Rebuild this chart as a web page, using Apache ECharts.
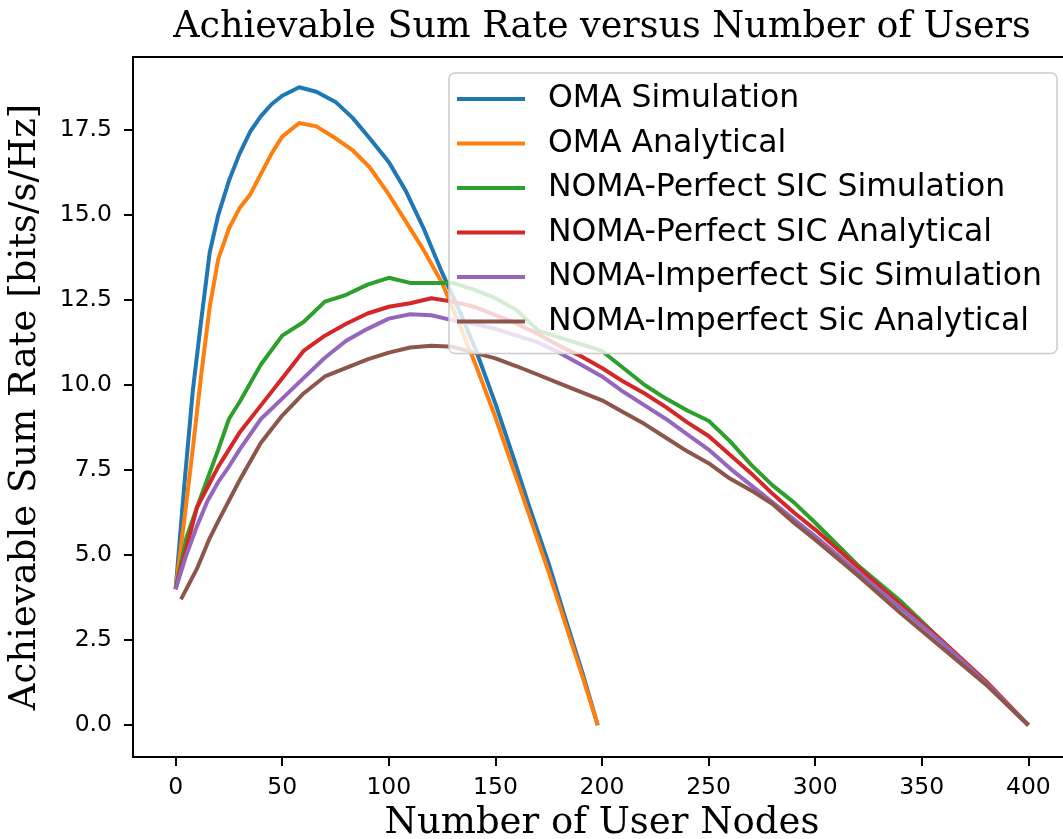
<!DOCTYPE html>
<html>
<head>
<meta charset="utf-8">
<script src="https://cdn.jsdelivr.net/npm/echarts@6/dist/echarts.min.js"></script>
<style>
  html, body { margin: 0; padding: 0; background: #fff; }
  #chart { width: 1063px; height: 839px; }
</style>
</head>
<body>
<div id="chart"></div>
<script>
'use strict';

// x positions (number of user nodes)
const omaX = [0, 4, 8, 12, 16, 20, 25, 30, 35, 40, 45, 50, 58, 66, 75, 83, 91, 100, 108, 116, 125, 133, 141, 150, 158, 166, 175, 183, 191, 198];
const nomaX = [0, 5, 10, 15, 20, 25, 30, 40, 50, 60, 70, 80, 90, 100, 110, 120, 130, 140, 150, 160, 170, 180, 190, 200, 210, 220, 230, 240, 250, 260, 270, 280, 290, 300, 320, 340, 360, 380, 400];
const nomaImpAnaX = [2.5, 10, 16, 20, 30, 40, 50, 60, 70, 80, 90, 100, 110, 120, 130, 140, 150, 160, 170, 180, 190, 200, 210, 220, 230, 240, 250, 260, 270, 280, 290, 300, 320, 340, 360, 380, 400];

// sum rate values [bits/s/Hz]
const omaSim = [4.0, 7.0, 9.8, 11.9, 13.9, 15.0, 16.0, 16.8, 17.45, 17.9, 18.25, 18.5, 18.75, 18.62, 18.32, 17.85, 17.25, 16.55, 15.7, 14.65, 13.3, 12.2, 11.0, 9.45, 7.95, 6.4, 4.75, 3.1, 1.5, 0];
const omaAna = [4.0, 6.0, 8.1, 10.3, 12.3, 13.7, 14.6, 15.2, 15.6, 16.2, 16.8, 17.3, 17.7, 17.6, 17.25, 16.9, 16.4, 15.6, 14.8, 14.0, 13.0, 11.8, 10.55, 9.05, 7.6, 6.15, 4.5, 2.95, 1.4, 0];
const nomaPerfSim = [4.0, 5.5, 6.4, 7.25, 8.1, 9.0, 9.5, 10.6, 11.45, 11.85, 12.45, 12.65, 12.95, 13.15, 13.0, 13.0, 13.0, 12.8, 12.55, 12.2, 11.6, 11.4, 11.2, 11.0, 10.5, 10.0, 9.6, 9.25, 8.95, 8.35, 7.65, 7.05, 6.55, 5.95, 4.7, 3.65, 2.45, 1.23, 0];
const nomaPerfAna = [4.0, 5.2, 6.4, 7.0, 7.6, 8.1, 8.6, 9.4, 10.2, 11.0, 11.45, 11.8, 12.1, 12.3, 12.4, 12.55, 12.45, 12.3, 12.05, 11.8, 11.5, 11.15, 10.85, 10.5, 10.1, 9.75, 9.35, 8.9, 8.5, 7.95, 7.4, 6.8, 6.25, 5.75, 4.65, 3.55, 2.45, 1.3, 0];
const nomaImpSim = [4.0, 5.0, 5.85, 6.6, 7.15, 7.6, 8.1, 9.0, 9.6, 10.2, 10.8, 11.3, 11.65, 11.95, 12.08, 12.05, 11.9, 11.8, 11.65, 11.45, 11.25, 10.95, 10.6, 10.25, 9.8, 9.4, 9.0, 8.55, 8.1, 7.55, 7.05, 6.55, 6.05, 5.55, 4.5, 3.45, 2.4, 1.25, 0];
const nomaImpAna = [3.7, 4.6, 5.5, 6.0, 7.2, 8.3, 9.1, 9.75, 10.25, 10.5, 10.75, 10.95, 11.1, 11.15, 11.12, 10.95, 10.78, 10.55, 10.3, 10.05, 9.8, 9.55, 9.2, 8.85, 8.45, 8.05, 7.7, 7.25, 6.9, 6.5, 5.95, 5.45, 4.4, 3.3, 2.25, 1.2, 0];

// tick labels
const xTicks = [0, 50, 100, 150, 200, 250, 300, 350, 400];
const yTicks = [0, 2.5, 5, 7.5, 10, 12.5, 15, 17.5];

const seriesNames = [
  'OMA Simulation',
  'OMA Analytical',
  'NOMA-Perfect SIC Simulation',
  'NOMA-Perfect SIC Analytical',
  'NOMA-Imperfect Sic Simulation',
  'NOMA-Imperfect Sic Analytical'
];
const colors = ['#1f77b4', '#ff7f0e', '#2ca02c', '#d62728', '#9467bd', '#8c564b'];

const pairs = (xs, ys) => xs.map((x, i) => [x, ys[i]]);
const seriesData = [
  pairs(omaX, omaSim),
  pairs(omaX, omaAna),
  pairs(nomaX, nomaPerfSim),
  pairs(nomaX, nomaPerfAna),
  pairs(nomaX, nomaImpSim),
  pairs(nomaImpAnaX, nomaImpAna)
];

const serif = '"DejaVu Serif", serif';
const sans = '"DejaVu Sans", sans-serif';

const chart = echarts.init(document.getElementById('chart'));
const option = {
  animation: false,
  color: colors,
  title: {
    text: 'Achievable Sum Rate versus Number of Users',
    left: 602,
    top: 9,
    padding: 0,
    textAlign: 'center',
    textStyle: { fontFamily: serif, fontSize: 36.5, fontWeight: 'normal', color: '#000' }
  },
  grid: {
    left: 133,
    top: 57,
    right: -8,
    bottom: 82,
    outerBoundsMode: 'none',
    show: true,
    borderColor: '#000',
    borderWidth: 2
  },
  legend: {
    orient: 'vertical',
    left: 449,
    top: 73,
    padding: [8, 15, 14, 8],
    itemGap: 8.5,
    itemWidth: 68,
    itemHeight: 4,
    icon: 'rect',
    backgroundColor: 'rgba(255,255,255,0.8)',
    borderColor: '#cccccc',
    borderWidth: 1.5,
    borderRadius: 6,
    textStyle: {
      fontFamily: sans,
      fontSize: 31.5,
      color: '#000',
      lineHeight: 36,
      padding: [0, 0, 0, 18]
    },
    data: seriesNames
  },
  xAxis: {
    type: 'value',
    min: -20,
    max: 420,
    name: 'Number of User Nodes',
    nameLocation: 'middle',
    nameGap: 47,
    nameTextStyle: { fontFamily: serif, fontSize: 37, color: '#000' },
    splitLine: { show: false },
    axisLine: { show: true, onZero: false, lineStyle: { color: '#000', width: 2 } },
    axisTick: { show: true, length: 9, customValues: xTicks, lineStyle: { color: '#000', width: 2 } },
    axisLabel: {
      customValues: xTicks,
      margin: 19,
      fontFamily: sans,
      fontSize: 23.5,
      color: '#000'
    }
  },
  yAxis: {
    type: 'value',
    min: -0.935,
    max: 19.64,
    name: 'Achievable Sum Rate [bits/s/Hz]',
    nameLocation: 'middle',
    nameGap: 89,
    nameTextStyle: { fontFamily: serif, fontSize: 37, color: '#000' },
    splitLine: { show: false },
    axisLine: { show: true, onZero: false, lineStyle: { color: '#000', width: 2 } },
    axisTick: { show: true, length: 9, customValues: yTicks, lineStyle: { color: '#000', width: 2 } },
    axisLabel: {
      customValues: yTicks,
      margin: 21,
      fontFamily: sans,
      fontSize: 23.5,
      color: '#000',
      formatter: (v) => v.toFixed(1)
    }
  },
  series: seriesNames.map((name, i) => ({
    name: name,
    type: 'line',
    data: seriesData[i],
    showSymbol: false,
    symbol: 'none',
    lineStyle: { width: 4, color: colors[i] },
    itemStyle: { color: colors[i] },
    z: 2 + i * 0.01
  }))
};
chart.setOption(option);

window.addEventListener('resize', () => {
  chart.resize();
});
</script>
</body>
</html>
